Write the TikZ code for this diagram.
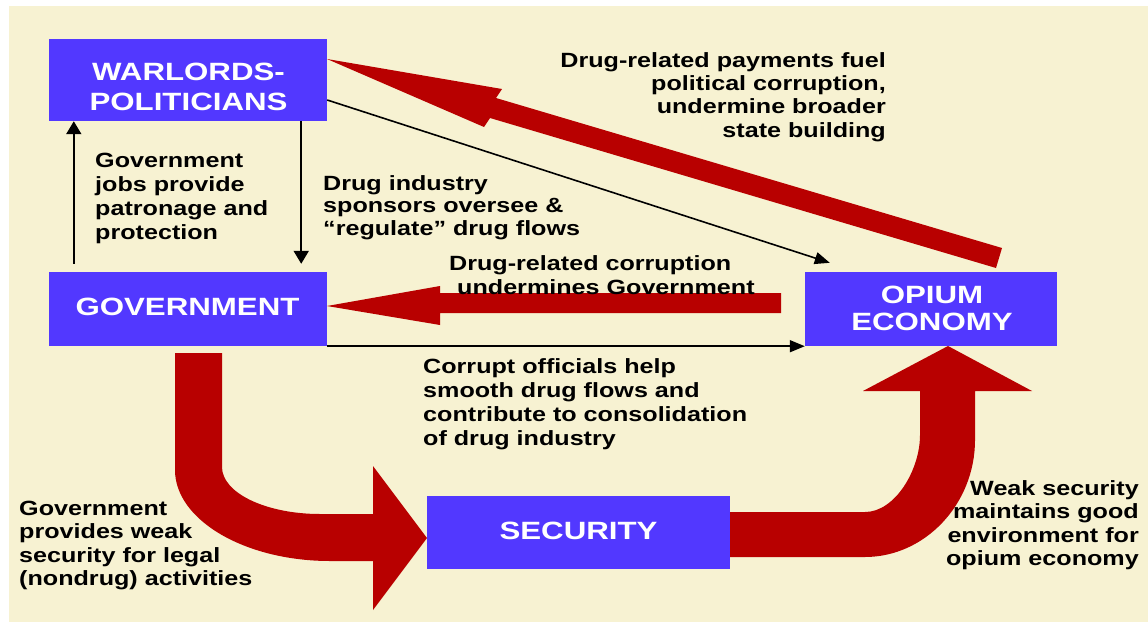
\documentclass[tikz,border=0pt]{standalone}
\usepackage{fontspec}
\usetikzlibrary{arrows.meta}
\newfontfamily\wfont[FakeStretch=1.22]{Liberation Sans}
\newfontfamily\bxfont[FakeStretch=1.25]{Liberation Sans}
\definecolor{cream}{RGB}{247,242,210}
\definecolor{boxblue}{RGB}{82,56,255}
\definecolor{arrred}{RGB}{184,0,0}
\tikzset{
  box/.style={draw=none, fill=boxblue, rectangle, inner sep=0pt},
  boxtxt/.style={font=\bxfont\bfseries\fontsize{25}{#1}\selectfont, text=white, inner sep=0pt, align=center},
  boxtxt/.default=30,
  txt/.style={font=\wfont\bfseries\fontsize{20.6}{#1}\selectfont, text=black, inner sep=0pt, align=left},
  txt/.default=24,
  rtxt/.style={txt=#1, align=right},
  rtxt/.default=24,
  blk/.style={draw=black, line width=2pt, -{Triangle[length=13pt,width=15pt]}},
  blkthin/.style={draw=black, line width=1.6pt, -{Triangle[length=15pt,width=12pt]}},
  redarrow/.style={fill=arrred, draw=none}
}
\begin{document}
\begin{tikzpicture}[x=1pt,y=-1pt]
\useasboundingbox (0,0) rectangle (1148,624);
\fill[white] (0,0) rectangle (1148,624);
\fill[cream] (9,6) rectangle (1148,622);

% boxes
\node[box, minimum width=278pt, minimum height=82pt] (warl) at (188,80) {};
\node[box, minimum width=278pt, minimum height=74pt] (gov) at (188,309) {};
\node[box, minimum width=252pt, minimum height=74pt] (opium) at (931,309) {};
\node[box, minimum width=303pt, minimum height=73pt] (sec) at (578.5,532.5) {};

% red block arrows
\fill[redarrow] (327,59) -- (502,89) -- (496,98) -- (1002,248) -- (996,268) -- (490,118) -- (484,127) -- cycle;
\fill[redarrow] (327,306) -- (440,286) -- (440,293) -- (781,293) -- (781,313) -- (440,313) -- (440,325) -- cycle;
\fill[redarrow] (175,353) -- (222,353) -- (222,467)
   .. controls (222,493) and (266,514) .. (320,514) -- (373,514) -- (373,466)
   -- (427,538) -- (373,610) -- (373,561) -- (330,561)
   .. controls (245,561) and (175,520) .. (175,470) -- cycle;
\fill[redarrow] (730,512) -- (865,512) .. controls (895,512) and (920,470) .. (920,435)
   -- (920,391) -- (863,391) -- (948,346) -- (1032,391) -- (975,391) -- (975,440)
   .. controls (975,504) and (925,557) .. (865,557) -- (730,557) -- cycle;

% box texts
\node[boxtxt] (warlT) at (188.5,63.3) [anchor=north] {WARLORDS-\\POLITICIANS};
\node[boxtxt] (govT) at (187.5,297.7) [anchor=north] {GOVERNMENT};
\node[boxtxt=27] (opiumT) at (932,286) [anchor=north] {OPIUM\\ECONOMY};
\node[boxtxt] (secT) at (578.5,522) [anchor=north] {SECURITY};

% black connectors
\draw[blk] ([xshift=25pt,yshift=8pt]gov.north west) -- ([xshift=25pt]warl.south west);
\draw[blk] ([xshift=-26pt]warl.south east) -- ([xshift=-26pt,yshift=8pt]gov.north east);
\draw[blkthin] ([yshift=-20pt]warl.east) -- ([xshift=25pt,yshift=9pt]opium.north west);
\draw[blkthin] (gov.south east) -- (opium.south west);

% labels
\node[txt] (t1) at (95,153) [anchor=north west] {Government\\jobs provide\\patronage and\\protection};
\node[txt=22.5] (t2) at (323,175) [anchor=north west] {Drug industry\\sponsors oversee \&\\“regulate” drug flows};
\node[rtxt=23.3] (t3) at (886,52) [anchor=north east] {Drug-related payments fuel\\political corruption,\\undermine broader\\state building};
\node[txt] (t4) at (449,255) [anchor=north west] {Drug-related corruption\\\hspace*{8pt}undermines Government};
\node[txt] (t5) at (423,358) [anchor=north west] {Corrupt officials help\\smooth drug flows and\\contribute to consolidation\\of drug industry};
\node[txt=23.3] (t6) at (19,501) [anchor=north west] {Government\\provides weak\\security for legal\\(nondrug) activities};
\node[rtxt=23.5] (t7) at (1139,480) [anchor=north east] {Weak security\\maintains good\\environment for\\opium economy};
\end{tikzpicture}
\end{document}
